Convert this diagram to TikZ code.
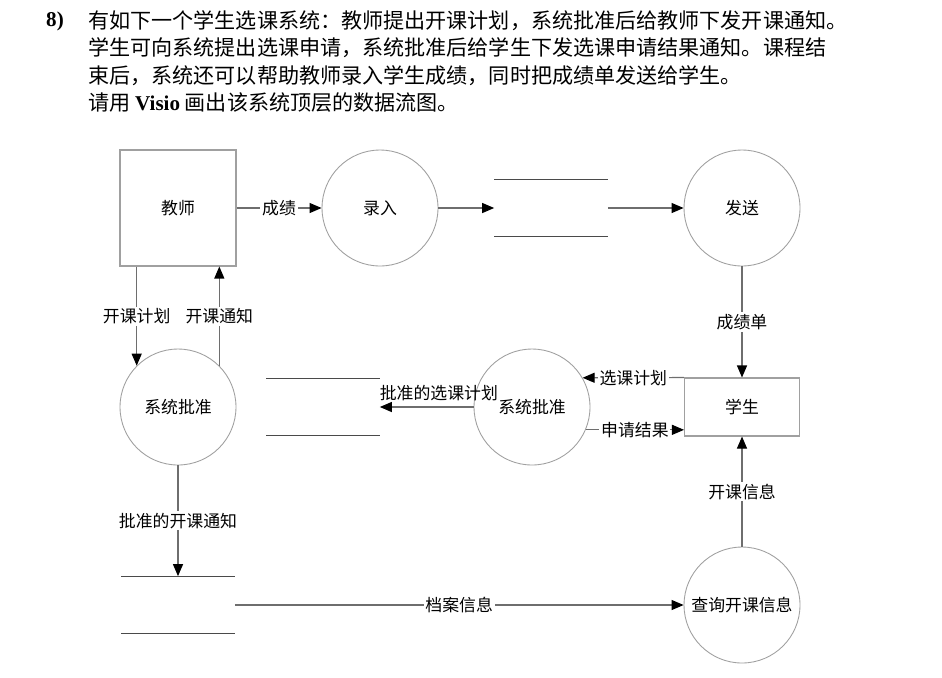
\documentclass[tikz,border=0pt]{standalone}
\usepackage{fontspec}
\setmainfont{Noto Sans CJK SC}
\newfontfamily\latin{Liberation Serif}
\usepackage{tikz}
\usetikzlibrary{arrows.meta,positioning}
\definecolor{flowgray}{HTML}{6E6E6E}
\definecolor{rimgray}{HTML}{A0A0A0}
\definecolor{storegray}{HTML}{4A4A4A}
\newcommand{\qfont}{\fontsize{12}{14}\selectfont}
\newcommand{\dfont}{\fontsize{9.6}{11}\selectfont}
\tikzset{
  txt/.style={inner sep=0pt,font=\qfont},
  ent/.style={draw=rimgray,line width=0.6pt,minimum width=2.32cm,minimum height=2.32cm,
              inner sep=0pt,font=\dfont},
  proc/.style={circle,draw=rimgray,line width=0.5pt,minimum size=2.32cm,inner sep=0pt,font=\dfont},
  store/.style={minimum width=2.26cm,minimum height=1.14cm,inner sep=0pt},
  storeline/.style={draw=storegray,line width=0.6pt},
  lbl/.style={fill=white,inner sep=1pt,font=\dfont},
  arr/.style={-{Triangle[length=2.4mm,width=2mm,black]},draw=flowgray,line width=0.6pt},
}
\begin{document}
\begin{tikzpicture}[x=0.02cm,y=-0.02cm]
  \useasboundingbox (0,0) rectangle (942,677);

  % question text
  \node[txt,font=\latin\bfseries\qfont] (num) at (55,21) {8)};
  \node[txt,anchor=west] (q1) at (88,21) {有如下一个学生选课系统：教师提出开课计划，系统批准后给教师下发开课通知。};
  \node[txt,anchor=west] (q2) at (88,48) {学生可向系统提出选课申请，系统批准后给学生下发选课申请结果通知。课程结};
  \node[txt,anchor=west] (q3) at (88,76) {束后，系统还可以帮助教师录入学生成绩，同时把成绩单发送给学生。};
  \node[txt,anchor=west] (q4) at (88,103) {请用 {\latin\bfseries Visio} 画出该系统顶层的数据流图。};

  % entities, processes, stores
  \node[ent] (teach) at (178,208) {教师};
  \node[proc] (rec) at (380,208) {录入};
  \node[store] (ds1) at (551,208) {};
  \node[proc] (send) at (742,208) {发送};
  \node[ent,minimum width=2.3cm,minimum height=1.16cm] (stu) at (742,407) {学生};
  \node[proc] (sysM) at (532,407) {系统批准};
  \node[store] (ds2) at (323,407) {};
  \node[proc] (sysL) at (178,407) {系统批准};
  \node[store] (ds3) at (178,605) {};
  \node[proc] (query) at (742,605) {查询开课信息};

  \foreach \s in {ds1,ds2,ds3}{
    \draw[storeline] (\s.north west) -- (\s.north east) (\s.south west) -- (\s.south east);}

  % flows
  \draw[arr] (teach) -- node[lbl]{成绩} (rec);
  \draw[arr] (rec) -- (ds1);
  \draw[arr] (ds1) -- (send);
  \draw[arr] (send) -- node[lbl]{成绩单} (stu);
  \draw[arr] (stu.north west) -- node[lbl]{选课计划} (sysM.30);
  \draw[arr] (sysM.-23) -- node[lbl]{申请结果} (stu.west |- sysM.-23);
  \draw[arr] (sysM) -- node[above,pos=0.37,yshift=2pt,inner sep=1pt,font=\dfont]{批准的选课计划} (ds2);
  \draw[arr] (teach.south -| sysL.north west) -- node[lbl]{开课计划} (sysL.north west);
  \draw[arr] (sysL.north east) -- node[lbl]{开课通知} (teach.south -| sysL.north east);
  \draw[arr] (sysL) -- node[lbl]{批准的开课通知} (ds3);
  \draw[arr] (ds3) -- node[lbl]{档案信息} (query);
  \draw[arr] (query) -- node[lbl]{开课信息} (stu);
\end{tikzpicture}
\end{document}
